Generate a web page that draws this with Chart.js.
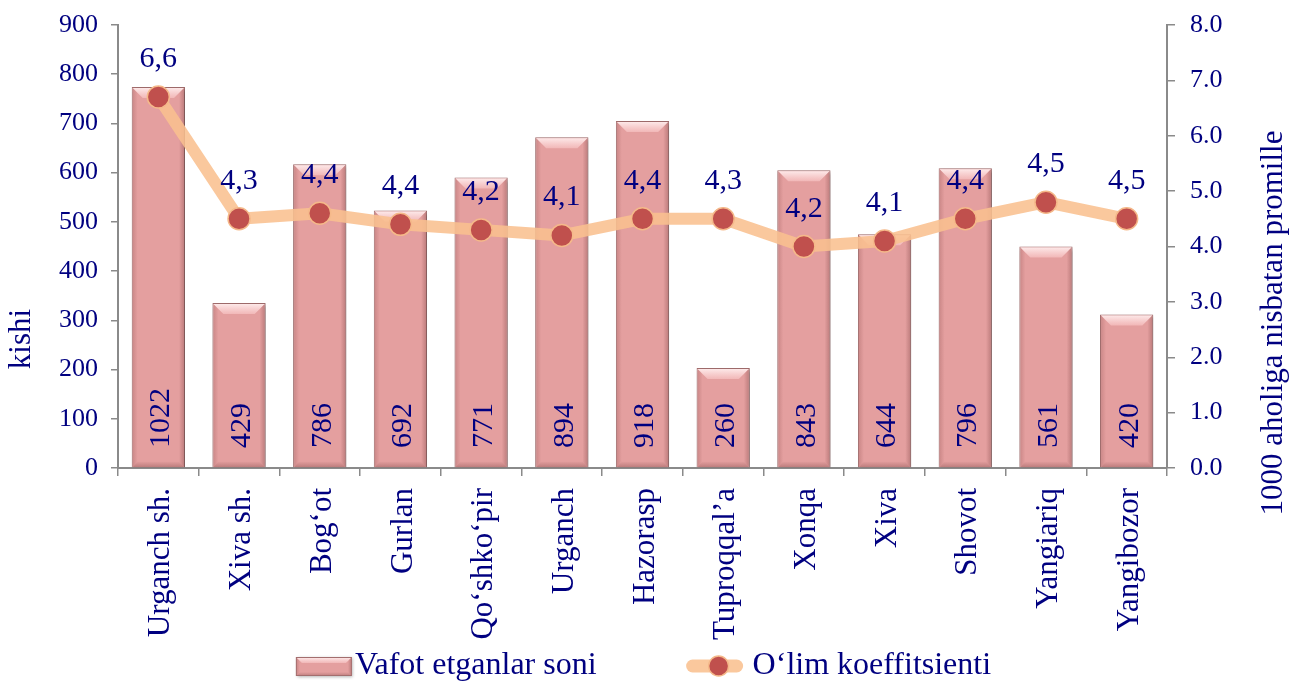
<!DOCTYPE html>
<html>
<head>
<meta charset="utf-8">
<script src="https://cdn.jsdelivr.net/npm/chart.js@4/dist/chart.umd.min.js"></script>
<style>
html,body{margin:0;padding:0;background:#ffffff;}
canvas{display:block;}
</style>
</head>
<body>
<canvas id="c" width="1293" height="682"></canvas>
<script>
const categories = ["Urganch sh.", "Xiva sh.", "Bog\u2018ot", "Gurlan", "Qo\u2018shko\u2018pir", "Urganch", "Hazorasp", "Tuproqqal\u2019a", "Xonqa", "Xiva", "Shovot", "Yangiariq", "Yangibozor"];
// bar heights as drawn (left axis, kishi)
const deathBars = [774, 335, 617, 523, 590, 672, 705, 203, 605, 475, 609, 450, 312];
// numbers printed inside the bars
const deathLabels = ["1022", "429", "786", "692", "771", "894", "918", "260", "843", "644", "796", "561", "420"];
// line points as drawn (right axis, promille)
const rateLine = [6.7, 4.5, 4.6, 4.4, 4.3, 4.2, 4.5, 4.5, 4.0, 4.1, 4.5, 4.8, 4.5];
// numbers printed above the points
const rateLabels = ["6,6", "4,3", "4,4", "4,4", "4,2", "4,1", "4,4", "4,3", "4,2", "4,1", "4,4", "4,5", "4,5"];
const seriesNames = ["Vafot etganlar soni", "O\u2018lim koeffitsienti"];
const leftAxisTitle = "kishi";
const rightAxisTitle = "1000 aholiga nisbatan promille";

const NAVY = '#000080';
const FONT = "'Liberation Serif', 'Times New Roman', serif";
const AXIS = '#8a8a8a';
const BAR_FILL = '#E49F9F';
const BAR_EDGE = '#A36E6E';
const LINE_COL = 'rgba(249,192,143,0.88)';

function drawBevel(ctx, l, t, r, b, bv, sd) {
  let g = ctx.createLinearGradient(0, t, 0, t + bv);
  g.addColorStop(0, 'rgba(255,240,240,0.97)');
  g.addColorStop(1, 'rgba(244,188,188,0.85)');
  ctx.fillStyle = g;
  ctx.beginPath(); ctx.moveTo(l + 1, t + 1); ctx.lineTo(r - 1, t + 1); ctx.lineTo(r - bv, t + bv); ctx.lineTo(l + bv, t + bv); ctx.closePath(); ctx.fill();
  g = ctx.createLinearGradient(l, 0, l + sd, 0);
  g.addColorStop(0, 'rgba(165,100,100,0.45)');
  g.addColorStop(1, 'rgba(165,100,100,0)');
  ctx.fillStyle = g;
  ctx.beginPath(); ctx.moveTo(l + 1, t + 1); ctx.lineTo(l + sd, t + sd); ctx.lineTo(l + sd, b - sd); ctx.lineTo(l + 1, b); ctx.closePath(); ctx.fill();
  g = ctx.createLinearGradient(r, 0, r - sd, 0);
  g.addColorStop(0, 'rgba(150,90,90,0.55)');
  g.addColorStop(1, 'rgba(150,90,90,0)');
  ctx.fillStyle = g;
  ctx.beginPath(); ctx.moveTo(r - 1, t + 1); ctx.lineTo(r - sd, t + sd); ctx.lineTo(r - sd, b - sd); ctx.lineTo(r - 1, b); ctx.closePath(); ctx.fill();
  g = ctx.createLinearGradient(0, b, 0, b - sd);
  g.addColorStop(0, 'rgba(150,90,90,0.5)');
  g.addColorStop(1, 'rgba(150,90,90,0)');
  ctx.fillStyle = g;
  ctx.beginPath(); ctx.moveTo(l + 1, b); ctx.lineTo(r - 1, b); ctx.lineTo(r - sd, b - sd); ctx.lineTo(l + sd, b - sd); ctx.closePath(); ctx.fill();
}

const bevelPlugin = {
  id: 'bevel',
  beforeDatasetDraw(chart, args) {
    if (args.index !== 0) return;
    const ctx = chart.ctx;
    ctx.save();
    ctx.shadowColor = 'rgba(0,0,0,0.30)';
    ctx.shadowBlur = 4;
    ctx.shadowOffsetX = 2;
    ctx.shadowOffsetY = 2;
  },
  afterDatasetDraw(chart, args) {
    if (args.index !== 0) return;
    const ctx = chart.ctx;
    ctx.restore();
    ctx.save();
    chart.getDatasetMeta(0).data.forEach(el => {
      const p = el.getProps(['x', 'y', 'base', 'width'], true);
      drawBevel(ctx, p.x - p.width / 2, p.y, p.x + p.width / 2, p.base, 11, 6);
    });
    ctx.restore();
  }
};

const labelPlugin = {
  id: 'valueLabels',
  afterDatasetsDraw(chart) {
    const ctx = chart.ctx;
    const zeroY = chart.scales.y.getPixelForValue(0);
    ctx.save();
    ctx.fillStyle = NAVY;
    ctx.font = '30px ' + FONT;
    chart.getDatasetMeta(0).data.forEach((el, i) => {
      ctx.save();
      ctx.translate(el.x + 3, zeroY - 20);
      ctx.rotate(-Math.PI / 2);
      ctx.textAlign = 'left';
      ctx.textBaseline = 'middle';
      ctx.fillText(deathLabels[i], 0, 0);
      ctx.restore();
    });
    ctx.font = '30px ' + FONT;
    ctx.textAlign = 'center';
    ctx.textBaseline = 'alphabetic';
    chart.getDatasetMeta(1).data.forEach((el, i) => {
      ctx.fillText(rateLabels[i], el.x, el.y - 30);
    });
    ctx.restore();
  },
  afterDraw(chart) {
    const ctx = chart.ctx;
    ctx.save();
    ctx.fillStyle = NAVY;
    ctx.font = '31px ' + FONT;
    ctx.textAlign = 'center';
    ctx.textBaseline = 'middle';
    ctx.save();
    ctx.translate(chart.scales.y.left + 22, 339);
    ctx.rotate(-Math.PI / 2);
    ctx.fillText(leftAxisTitle, 0, 0);
    ctx.restore();
    ctx.save();
    ctx.translate(chart.scales.y1.right - 19, 323);
    ctx.rotate(-Math.PI / 2);
    ctx.fillText(rightAxisTitle, 0, 0);
    ctx.restore();

    // legend
    ctx.font = '32px ' + FONT;
    const t1 = ctx.measureText(seriesNames[0]).width;
    const t2 = ctx.measureText(seriesNames[1]).width;
    const sw = 56, g1 = 3, gap = 90, g2 = 10;
    const total = sw + g1 + t1 + gap + sw + g2 + t2;
    let x = chart.width / 2 - 3 - total / 2;
    const cy = 666;
    ctx.save();
    ctx.shadowColor = 'rgba(0,0,0,0.3)'; ctx.shadowBlur = 3; ctx.shadowOffsetX = 1; ctx.shadowOffsetY = 1;
    ctx.fillStyle = BAR_FILL;
    ctx.fillRect(x, cy - 9, sw, 19);
    ctx.restore();
    drawBevel(ctx, x, cy - 9, x + sw, cy + 10, 6, 4);
    ctx.strokeStyle = BAR_EDGE; ctx.lineWidth = 1;
    ctx.strokeRect(x + 0.5, cy - 8.5, sw - 1, 18);
    ctx.fillStyle = NAVY;
    ctx.textAlign = 'left';
    ctx.textBaseline = 'middle';
    ctx.fillText(seriesNames[0], x + sw + g1, cy);
    x += sw + g1 + t1 + gap;
    ctx.save();
    ctx.strokeStyle = LINE_COL; ctx.lineWidth = 13; ctx.lineCap = 'round';
    ctx.beginPath(); ctx.moveTo(x + 6, cy); ctx.lineTo(x + sw - 6, cy); ctx.stroke();
    ctx.fillStyle = '#C0504D'; ctx.strokeStyle = '#F5B98A'; ctx.lineWidth = 1.5;
    ctx.beginPath(); ctx.arc(x + sw / 2 + 4, cy, 10, 0, Math.PI * 2); ctx.fill(); ctx.stroke();
    ctx.restore();
    ctx.fillStyle = NAVY;
    ctx.fillText(seriesNames[1], x + sw + g2, cy);
    ctx.restore();
  }
};

new Chart(document.getElementById('c'), {
  data: {
    labels: categories,
    datasets: [
      { type: 'bar', label: seriesNames[0], data: deathBars, yAxisID: 'y', backgroundColor: BAR_FILL, borderColor: BAR_EDGE, borderWidth: 1, barPercentage: 0.66, categoryPercentage: 1, order: 2 },
      { type: 'line', label: seriesNames[1], data: rateLine, yAxisID: 'y1', borderColor: LINE_COL, borderWidth: 12, borderCapStyle: 'round', borderJoinStyle: 'round', tension: 0, fill: false, pointRadius: 11, pointBackgroundColor: '#C0504D', pointBorderColor: '#F5B98A', pointBorderWidth: 1.5, order: 1 }
    ]
  },
  options: {
    responsive: false,
    animation: false,
    devicePixelRatio: 1,
    layout: { padding: { top: 25, left: 0, right: 0, bottom: 0 } },
    plugins: { tooltip: { enabled: false }, legend: { display: false } },
    scales: {
      x: {
        type: 'category', offset: true,
        grid: { offset: true, drawOnChartArea: false, drawTicks: true, tickLength: 8, color: AXIS, lineWidth: 1.5 },
        border: { display: true, color: AXIS, width: 2 },
        ticks: { autoSkip: false, maxRotation: 90, minRotation: 90, padding: 12, labelOffset: 3, color: NAVY, font: { family: FONT, size: 31 } },
        afterFit(s) { s.height = 214; }
      },
      y: {
        position: 'left', min: 0, max: 900,
        ticks: { stepSize: 100, padding: 13, color: NAVY, font: { family: FONT, size: 26 } },
        grid: { drawOnChartArea: false, drawTicks: true, tickLength: 7, color: AXIS, lineWidth: 1.5 },
        border: { display: true, color: AXIS, width: 2 },
        afterFit(s) { s.width = 118; s.paddingTop = 0; }
      },
      y1: {
        position: 'right', min: 0, max: 8,
        ticks: { stepSize: 1, padding: 15, color: NAVY, font: { family: FONT, size: 26 }, callback: v => Number(v).toFixed(1) },
        grid: { drawOnChartArea: false, drawTicks: true, tickLength: 8, color: AXIS, lineWidth: 1.5 },
        border: { display: true, color: AXIS, width: 2 },
        afterFit(s) { s.width = 126; s.paddingTop = 0; }
      }
    }
  },
  plugins: [bevelPlugin, labelPlugin]
});
</script>
</body>
</html>
